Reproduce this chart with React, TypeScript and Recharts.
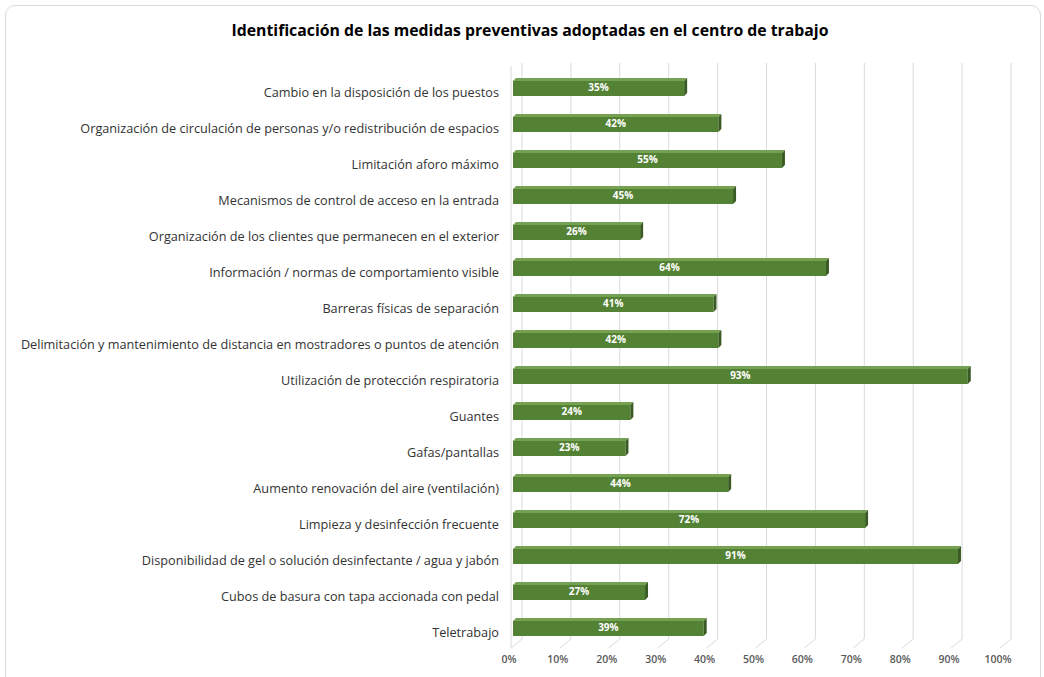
import { BarChart, Bar, XAxis, YAxis, CartesianGrid, LabelList } from "recharts";

const categories = [
  "Cambio en la disposición de los puestos",
  "Organización de circulación de personas y/o redistribución de espacios",
  "Limitación aforo máximo",
  "Mecanismos de control de acceso en la entrada",
  "Organización de los clientes que permanecen en el exterior",
  "Información / normas de comportamiento visible",
  "Barreras físicas de separación",
  "Delimitación y mantenimiento de distancia en mostradores o puntos de atención",
  "Utilización de protección respiratoria",
  "Guantes",
  "Gafas/pantallas",
  "Aumento renovación del aire (ventilación)",
  "Limpieza y desinfección frecuente",
  "Disponibilidad de gel o solución desinfectante / agua y jabón",
  "Cubos de basura con tapa accionada con pedal",
  "Teletrabajo",
];

const values = [35, 42, 55, 45, 26, 64, 41, 42, 93, 24, 23, 44, 72, 91, 27, 39];

const xTicks = [0, 10, 20, 30, 40, 50, 60, 70, 80, 90, 100];

const FONT = "'Open Sans', 'Noto Sans', sans-serif";
const GREEN = "#548235";

// barra con efecto 3D (cara frontal, superior y lateral)
function Bar3D(props: any) {
  const { x, y, width, height } = props;
  const d = 3;
  return (
    <g>
      <rect x={x} y={y + d} width={width} height={height - d} fill={GREEN} />
      <polygon
        points={`${x},${y + d} ${x + d},${y} ${x + width + d},${y} ${x + width},${y + d}`}
        fill="#76a153"
      />
      <polygon
        points={`${x + width},${y + d} ${x + width + d},${y} ${x + width + d},${y + height - d} ${x + width},${y + height}`}
        fill="#3a5c24"
      />
    </g>
  );
}

// rejilla desplazada como en el gráfico 3D de Excel
function GridLine(props: any) {
  const { x1, y1, y2, index } = props;
  const c = "#d9d9d9";
  return (
    <g key={`g-${index}`}>
      <line x1={x1 + 9} y1={y1 - 6} x2={x1 + 9} y2={y2 - 6} stroke={c} />
      <line x1={x1 + 9} y1={y2 - 6} x2={x1 - 2} y2={y2 + 3} stroke={c} />
      {index === 0 && <line x1={x1 - 2} y1={y1 - 3} x2={x1 - 2} y2={y2 + 3} stroke={c} />}
    </g>
  );
}

export default function App() {
  const data = categories.map((name, i) => ({ name, value: values[i] }));

  return (
    <div
      style={{
        position: "absolute",
        left: 0,
        top: 0,
        width: 1044,
        height: 677,
        overflow: "hidden",
        background: "#fff",
        fontFamily: FONT,
      }}
    >
      <div
        style={{
          position: "absolute",
          left: 5,
          top: 5,
          width: 1034,
          height: 700,
          border: "1px solid #d9d9d9",
          borderRadius: 10,
        }}
      />
      <div
        style={{
          position: "absolute",
          left: 0,
          top: 19,
          width: 1060,
          textAlign: "center",
          fontWeight: "bold",
          fontSize: 15.8,
          color: "#000",
        }}
      >
        Identificación de las medidas preventivas adoptadas en el centro de trabajo
      </div>
      <div style={{ position: "absolute", left: 0, top: 0 }}>
        <BarChart
          width={1044}
          height={677}
          data={data}
          layout="vertical"
          margin={{ top: 69, right: 42, bottom: 0, left: 0 }}
          barCategoryGap={0}
        >
          <CartesianGrid horizontal={false} vertical={GridLine} />
          <XAxis
            type="number"
            domain={[0, 100]}
            ticks={xTicks}
            tickFormatter={(v: number) => `${v}%`}
            axisLine={false}
            tickLine={false}
            tickSize={0}
            tickMargin={11}
            height={32}
            interval={0}
            tick={{ fontSize: 10.5, fontWeight: 600, fill: "#595959", fontFamily: FONT, dx: -4 }}
          />
          <YAxis
            type="category"
            dataKey="name"
            width={513}
            axisLine={false}
            tickLine={false}
            tickSize={0}
            tickMargin={14}
            interval={0}
            tick={{ fontSize: 12.7, fill: "#333333", fontFamily: FONT, dy: 5 }}
          />
          <Bar dataKey="value" barSize={18} shape={Bar3D} isAnimationActive={false}>
            <LabelList
              dataKey="value"
              position="center"
              formatter={(v: any) => `${v}%`}
              fill="#ffffff"
              fontSize={10}
              fontWeight="bold"
              fontFamily={FONT}
            />
          </Bar>
        </BarChart>
      </div>
    </div>
  );
}
